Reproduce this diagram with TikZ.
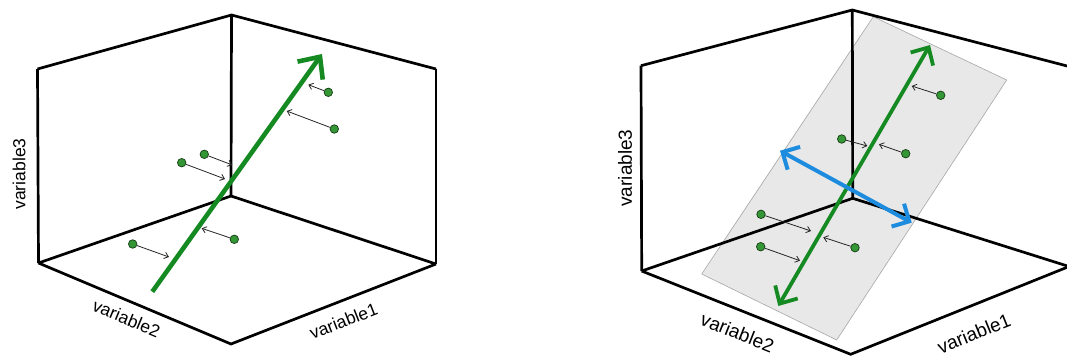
\documentclass[tikz,border=0pt]{standalone}
\usepackage{fontspec}
\setmainfont{Liberation Sans}
\usetikzlibrary{arrows.meta}
\definecolor{pcgreen}{RGB}{22,138,34}
\definecolor{pcblue}{RGB}{30,140,222}
\definecolor{dotgreen}{RGB}{52,150,52}
\definecolor{planegray}{RGB}{232,232,232}
\begin{document}
\begin{tikzpicture}[x=1pt,y=-1pt,
  boxline/.style={line width=2.7pt, black, line join=miter},
  dotnode/.style={circle, fill=dotgreen, draw=black!60!dotgreen, line width=0.7pt, inner sep=0pt, minimum size=8.5pt},
  resid/.style={line width=0.8pt, black!85, -{Straight Barb[length=4pt,width=6.5pt]}},
  axisone/.style={line width=4.6pt, pcgreen, -{Straight Barb[length=17pt,width=31pt]}},
  axistwo/.style={line width=3.8pt, pcgreen, {Straight Barb[length=13.5pt,width=26pt]}-{Straight Barb[length=13.5pt,width=26pt]}},
  axisthree/.style={line width=4pt, pcblue, {Straight Barb[length=13pt,width=26pt]}-{Straight Barb[length=13pt,width=26pt]}},
  lbl/.style={font=\fontsize{17.5}{18}\selectfont, inner sep=0pt},
  lblb/.style={font=\fontsize{19}{20}\selectfont, inner sep=0pt},
  plane/.style={fill=planegray, draw=black!35, line width=0.6pt}
]
\useasboundingbox (0,0) rectangle (1067,356);
\clip (0,0) rectangle (1067,356);
% ---------------- left panel ----------------
\coordinate (A) at (231.5,15);
\coordinate (UL) at (37.5,69);
\coordinate (UR) at (436,69);
\coordinate (O) at (231,196);
\coordinate (LL) at (38.5,263);
\coordinate (LR) at (436,264);
\coordinate (B) at (231,344);
\draw[boxline] (UL) -- (A) -- (UR);
\draw[boxline] (A) -- (O);
\draw[boxline] (UL) -- (LL);
\draw[boxline] (UR) -- (LR);
\draw[boxline] (LL) -- (O) -- (LR);
\draw[boxline] (LL) -- (B) -- (LR);
\node[lbl, rotate=90] (v3a) at (19,174) {variable3};
\node[lbl, rotate=-22.6] (v2a) at (126.5,318.5) {variable2};
\node[lbl, rotate=21.3] (v1a) at (343.5,321) {variable1};
% residuals
\node[dotnode] (p1) at (328.3,92.3) {};
\node[dotnode] (p2) at (334.3,129) {};
\node[dotnode] (p3) at (204.3,154.3) {};
\node[dotnode] (p4) at (181.7,162.7) {};
\node[dotnode] (p5) at (234.3,239.3) {};
\node[dotnode] (p6) at (132.7,244) {};
\coordinate (q1) at (308.3,84.7);
\coordinate (q2) at (286.7,111);
\coordinate (q3) at (232.3,165);
\coordinate (q4) at (225,179);
\coordinate (q5) at (201.7,228.3);
\coordinate (q6) at (169,257);
\foreach \i in {1,...,6} {\draw[resid] (p\i) -- (q\i);}
\coordinate (gs) at (152.3,291.7);
\coordinate (ge) at (322,54);
\draw[axisone] (gs) -- (ge);
% ---------------- right panel ----------------
\coordinate (A2) at (852.3,10);
\coordinate (UL2) at (641,65.7);
\coordinate (UR2) at (1069,66.5);
\coordinate (O2) at (852.7,198.3);
\coordinate (LL2) at (641.7,271);
\coordinate (LR2) at (1069,266.5);
\coordinate (B2) at (850.7,354.3);
\coordinate (P1) at (873.3,16.7);
\coordinate (P2) at (1006.7,80);
\coordinate (P3) at (836.7,340);
\coordinate (P4) at (701.7,274);
\draw[plane] (P1) -- (P2) -- (P3) -- (P4) -- cycle;
\draw[boxline] (UL2) -- (A2) -- (UR2);
\draw[boxline] (A2) -- (O2);
\draw[boxline] (UL2) -- (LL2);
\draw[boxline] (UR2) -- (LR2);
\draw[boxline] (LL2) -- (O2) -- (LR2);
\draw[boxline] (LL2) -- (B2) -- (LR2);
\node[lblb, rotate=90] (v3b) at (625,168) {variable3};
\node[lblb, rotate=-21.7] (v2b) at (737.5,332.5) {variable2};
\node[lblb, rotate=22.1] (v1b) at (974,333.5) {variable1};
\node[dotnode] (r1) at (940.7,95.3) {};
\node[dotnode] (r2) at (841.7,139) {};
\node[dotnode] (r3) at (905.7,153.7) {};
\node[dotnode] (r4) at (761,214.3) {};
\node[dotnode] (r5) at (855,247.7) {};
\node[dotnode] (r6) at (760.7,246.7) {};
\coordinate (s1) at (911.7,86);
\coordinate (s2) at (867.3,146);
\coordinate (s3) at (879,144.3);
\coordinate (s4) at (811,231);
\coordinate (s5) at (823.3,237.3);
\coordinate (s6) at (800,260.7);
\foreach \i in {1,...,6} {\draw[resid] (r\i) -- (s\i);}
\coordinate (g2s) at (778.3,306);
\coordinate (g2e) at (930,45);
\draw[axistwo] (g2s) -- (g2e);
\coordinate (b2s) at (780,150.7);
\coordinate (b2e) at (911.7,222.7);
\draw[axisthree] (b2s) -- (b2e);
\end{tikzpicture}
\end{document}
